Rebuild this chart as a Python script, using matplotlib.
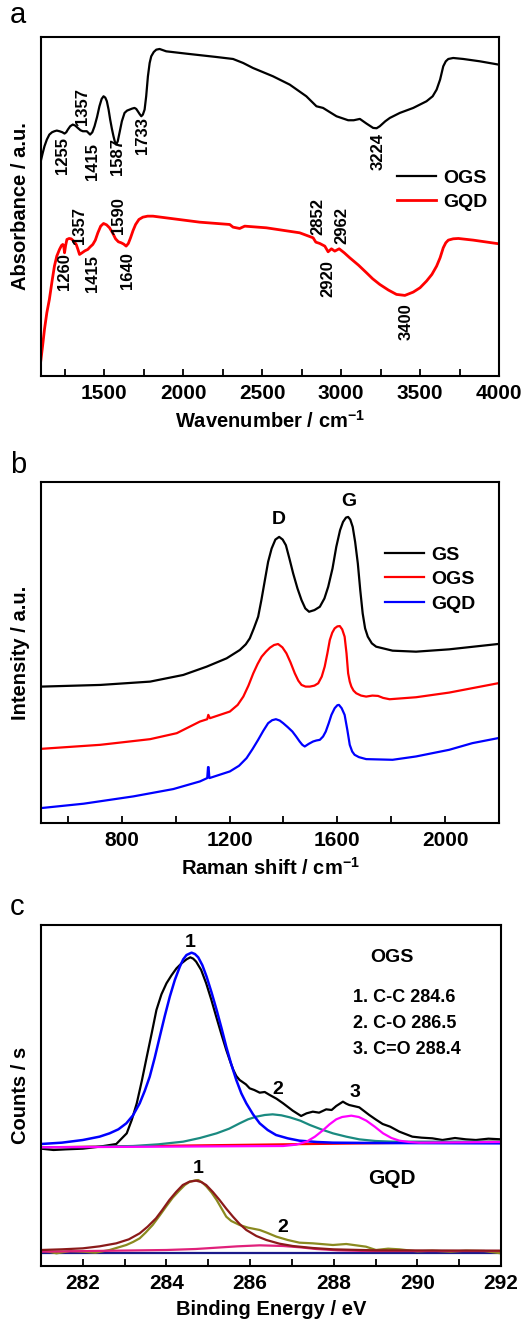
import matplotlib.pyplot as plt
from matplotlib.ticker import MultipleLocator

plt.rcParams['font.family'] = ['Liberation Sans', 'DejaVu Sans']
plt.rcParams['font.weight'] = 'bold'
plt.rcParams['mathtext.fontset'] = 'custom'
plt.rcParams['mathtext.rm'] = 'Liberation Sans'
plt.rcParams['mathtext.bf'] = 'Liberation Sans:bold'

# ---- panel a: FTIR ----
ftir_wn_ogs = [1096, 1110, 1122, 1137, 1153, 1170, 1185, 1200, 1217, 1235, 1249, 1260, 1270,
               1285, 1301, 1317, 1333, 1350, 1365, 1390, 1411, 1425, 1439, 1455, 1470, 1484,
               1496, 1507, 1517, 1528, 1538, 1549, 1559, 1568, 1576, 1586, 1597, 1612, 1629,
               1645, 1661, 1677, 1692, 1703, 1713, 1724, 1735, 1745, 1756, 1766, 1777, 1788,
               1798, 1814, 1830, 1851, 1893, 2020, 2210, 2316, 2380, 2442, 2569, 2675, 2780,
               2844, 2886, 2930, 2971, 3045, 3080, 3119, 3161, 3203, 3225, 3245, 3280, 3309,
               3372, 3457, 3541, 3580, 3605, 3627, 3647, 3663, 3679, 3710, 3774, 3879, 3999]
ftir_ogs = [0.640, 0.668, 0.690, 0.710, 0.725, 0.732, 0.735, 0.737, 0.735, 0.732, 0.728, 0.732,
            0.740, 0.750, 0.755, 0.752, 0.745, 0.738, 0.735, 0.735, 0.725, 0.732, 0.750, 0.778,
            0.810, 0.832, 0.840, 0.836, 0.825, 0.800, 0.770, 0.742, 0.720, 0.703, 0.695, 0.705,
            0.730, 0.765, 0.790, 0.797, 0.800, 0.803, 0.805, 0.802, 0.795, 0.787, 0.780, 0.785,
            0.800, 0.840, 0.900, 0.940, 0.960, 0.973, 0.980, 0.982, 0.975, 0.968, 0.958, 0.952,
            0.940, 0.925, 0.900, 0.875, 0.840, 0.810, 0.805, 0.792, 0.780, 0.768, 0.768, 0.772,
            0.758, 0.745, 0.744, 0.750, 0.765, 0.775, 0.790, 0.805, 0.825, 0.840, 0.860, 0.890,
            0.930, 0.945, 0.952, 0.955, 0.952, 0.945, 0.935]
ftir_wn_gqd = [1096, 1110, 1122, 1137, 1153, 1170, 1185, 1200, 1217, 1230, 1238, 1244, 1249,
               1256, 1264, 1278, 1291, 1307, 1323, 1334, 1344, 1360, 1378, 1396, 1412, 1428,
               1444, 1460, 1478, 1496, 1515, 1534, 1553, 1572, 1590, 1608, 1624, 1639, 1653,
               1667, 1683, 1699, 1720, 1745, 1775, 1809, 2104, 2295, 2316, 2358, 2390, 2527,
               2738, 2823, 2840, 2865, 2897, 2918, 2939, 2960, 2988, 3020, 3055, 3110, 3161,
               3200, 3245, 3300, 3351, 3404, 3457, 3500, 3541, 3575, 3605, 3627, 3647, 3663,
               3679, 3710, 3743, 3837, 3999]
ftir_gqd = [0.035, 0.090, 0.140, 0.190, 0.230, 0.285, 0.330, 0.360, 0.380, 0.392, 0.395, 0.390,
            0.370, 0.392, 0.410, 0.413, 0.412, 0.405, 0.395, 0.380, 0.365, 0.370, 0.376, 0.380,
            0.388, 0.395, 0.408, 0.430, 0.450, 0.458, 0.454, 0.445, 0.430, 0.412, 0.403, 0.400,
            0.396, 0.390, 0.398, 0.415, 0.437, 0.455, 0.470, 0.477, 0.480, 0.480, 0.462, 0.455,
            0.447, 0.443, 0.450, 0.445, 0.430, 0.415, 0.402, 0.398, 0.390, 0.373, 0.382, 0.375,
            0.382, 0.370, 0.355, 0.333, 0.310, 0.292, 0.275, 0.258, 0.245, 0.242, 0.252, 0.265,
            0.285, 0.305, 0.330, 0.355, 0.385, 0.400, 0.408, 0.412, 0.413, 0.408, 0.397]
ftir_labels = ['1255', '1357', '1415', '1587', '1733', '3224',
               '1260', '1357', '1415', '1590', '1640', '2852', '2962', '2920', '3400']
ftir_label_x = [1238, 1365, 1424, 1587, 1741, 3235, 1249, 1344, 1424, 1593, 1650, 2855, 3002, 2918, 3414]
ftir_label_y = [0.662, 0.810, 0.643, 0.660, 0.722, 0.675, 0.315, 0.452, 0.308, 0.482, 0.318,
                0.478, 0.452, 0.292, 0.162]

# ---- panel b: Raman ----
raman_x_gs = [502, 720, 905, 1028, 1115, 1189, 1238, 1260, 1275, 1290, 1306, 1318, 1331, 1343,
              1356, 1370, 1384, 1397, 1409, 1422, 1436, 1452, 1467, 1481, 1495, 1515, 1535, 1552,
              1566, 1582, 1596, 1610, 1621, 1632, 1640, 1648, 1657, 1666, 1676, 1685, 1694, 1703,
              1713, 1728, 1744, 1805, 1892, 2015, 2196]
raman_gs = [0.410, 0.415, 0.425, 0.445, 0.470, 0.495, 0.520, 0.537, 0.555, 0.585, 0.620, 0.670,
            0.730, 0.785, 0.825, 0.852, 0.860, 0.852, 0.835, 0.795, 0.750, 0.705, 0.670, 0.645,
            0.635, 0.640, 0.650, 0.675, 0.710, 0.765, 0.830, 0.880, 0.905, 0.918, 0.920, 0.912,
            0.890, 0.845, 0.780, 0.700, 0.630, 0.585, 0.560, 0.540, 0.530, 0.518, 0.515, 0.522,
            0.538]
raman_x_ogs = [502, 720, 905, 1004, 1090, 1117, 1121, 1127, 1201, 1230, 1251, 1270, 1288, 1304,
               1319, 1335, 1350, 1365, 1380, 1396, 1411, 1426, 1442, 1455, 1467, 1482, 1498,
               1515, 1529, 1542, 1553, 1563, 1572, 1581, 1590, 1600, 1609, 1618, 1627, 1634,
               1640, 1646, 1652, 1660, 1670, 1688, 1707, 1730, 1751, 1770, 1794, 1892, 2015, 2196]
raman_ogs = [0.223, 0.235, 0.252, 0.270, 0.305, 0.312, 0.325, 0.315, 0.335, 0.355, 0.380, 0.413,
             0.450, 0.478, 0.500, 0.515, 0.527, 0.535, 0.538, 0.528, 0.510, 0.483, 0.450, 0.428,
             0.415, 0.410, 0.410, 0.413, 0.420, 0.440, 0.470, 0.510, 0.550, 0.572, 0.585, 0.591,
             0.592, 0.582, 0.560, 0.510, 0.450, 0.425, 0.410, 0.398, 0.390, 0.383, 0.380, 0.383,
             0.382, 0.376, 0.372, 0.378, 0.392, 0.420]
raman_x_gqd = [502, 658, 843, 991, 1090, 1117, 1120, 1122, 1125, 1201, 1235, 1263, 1285, 1306,
               1325, 1343, 1358, 1372, 1386, 1399, 1416, 1433, 1447, 1460, 1470, 1479, 1494,
               1510, 1522, 1535, 1547, 1557, 1568, 1578, 1590, 1600, 1606, 1616, 1627, 1637,
               1646, 1655, 1664, 1680, 1707, 1805, 1892, 2015, 2101, 2196]
raman_gqd = [0.045, 0.058, 0.080, 0.102, 0.125, 0.135, 0.168, 0.168, 0.135, 0.155, 0.172, 0.195,
             0.222, 0.250, 0.277, 0.300, 0.309, 0.312, 0.308, 0.300, 0.288, 0.275, 0.260, 0.245,
             0.235, 0.230, 0.238, 0.245, 0.248, 0.250, 0.260, 0.275, 0.300, 0.325, 0.345, 0.354,
             0.355, 0.345, 0.325, 0.280, 0.235, 0.215, 0.205, 0.198, 0.192, 0.190, 0.200, 0.220,
             0.240, 0.255]

# ---- panel c: XPS C1s ----
xps_x_ogs = [281.0, 281.3, 281.6, 282.0, 282.4, 282.8, 283.05, 283.17, 283.29, 283.41, 283.53,
             283.65, 283.76, 283.88, 284.0, 284.12, 284.24, 284.36, 284.48, 284.57, 284.64,
             284.71, 284.83, 284.95, 285.07, 285.19, 285.31, 285.43, 285.52, 285.6, 285.67,
             285.75, 285.9, 285.99, 286.1, 286.23, 286.35, 286.47, 286.63, 286.79, 287.02,
             287.22, 287.35, 287.5, 287.65, 287.82, 287.95, 288.06, 288.22, 288.3, 288.37,
             288.61, 288.85, 289.0, 289.17, 289.35, 289.57, 289.88, 290.1, 290.36, 290.6, 290.9,
             291.16, 291.4, 291.7, 292.0]
xps_ogs = [0.352, 0.348, 0.350, 0.352, 0.358, 0.366, 0.398, 0.438, 0.488, 0.555, 0.628, 0.700,
           0.768, 0.815, 0.848, 0.872, 0.893, 0.908, 0.920, 0.926, 0.922, 0.913, 0.888, 0.848,
           0.800, 0.748, 0.697, 0.648, 0.615, 0.588, 0.570, 0.558, 0.545, 0.533, 0.528, 0.520,
           0.522, 0.513, 0.502, 0.488, 0.466, 0.450, 0.458, 0.463, 0.460, 0.470, 0.468, 0.480,
           0.493, 0.487, 0.483, 0.476, 0.453, 0.440, 0.426, 0.418, 0.403, 0.388, 0.385, 0.383,
           0.378, 0.384, 0.380, 0.378, 0.382, 0.380]
xps_x_fit1 = [281.0, 281.5, 282.0, 282.4, 282.64, 282.85, 283.04, 283.2, 283.36, 283.48, 283.6,
              283.72, 283.84, 283.96, 284.08, 284.2, 284.32, 284.4, 284.48, 284.6, 284.68,
              284.76, 284.86, 284.96, 285.08, 285.2, 285.32, 285.43, 285.55, 285.67, 285.79,
              285.91, 286.07, 286.23, 286.42, 286.62, 286.9, 287.18, 287.6, 287.98, 289.0, 292.0]
xps_fit1 = [0.366, 0.370, 0.378, 0.388, 0.398, 0.410, 0.428, 0.452, 0.488, 0.525, 0.568, 0.625,
            0.688, 0.750, 0.808, 0.858, 0.898, 0.920, 0.933, 0.940, 0.936, 0.926, 0.902, 0.868,
            0.820, 0.768, 0.712, 0.658, 0.605, 0.558, 0.518, 0.488, 0.455, 0.428, 0.408, 0.393,
            0.383, 0.376, 0.372, 0.370, 0.369, 0.368]
xps_x_fit2 = [281.0, 282.0, 283.2, 283.8, 284.4, 284.8, 285.2, 285.5, 285.75, 285.95, 286.15,
              286.35, 286.54, 286.75, 286.95, 287.2, 287.43, 287.7, 287.98, 288.3, 288.61, 289.0,
              289.41, 292.0]
xps_fit2 = [0.356, 0.357, 0.360, 0.365, 0.373, 0.384, 0.398, 0.412, 0.428, 0.440, 0.448, 0.453,
            0.455, 0.452, 0.446, 0.436, 0.423, 0.410, 0.398, 0.388, 0.380, 0.375, 0.373, 0.373]
xps_x_fit3 = [281.0, 286.79, 287.1, 287.35, 287.55, 287.75, 287.9, 288.06, 288.2, 288.42, 288.6,
              288.78, 288.98, 289.18, 289.38, 289.57, 289.8, 290.05, 292.0]
xps_fit3 = [0.356, 0.360, 0.364, 0.373, 0.388, 0.408, 0.425, 0.440, 0.447, 0.451, 0.447, 0.436,
            0.418, 0.398, 0.384, 0.376, 0.372, 0.370, 0.372]
xps_x_base = [281.0, 292.0]
xps_base_ogs = [0.356, 0.373]

xps_x_gqd = [281.0, 281.37, 281.7, 282.0, 282.3, 282.64, 283.04, 283.2, 283.36, 283.5, 283.67,
             283.83, 283.99, 284.15, 284.32, 284.44, 284.56, 284.66, 284.76, 284.86, 284.96,
             285.08, 285.2, 285.32, 285.43, 285.55, 285.75, 285.95, 286.23, 286.4, 286.63,
             286.9, 287.18, 287.5, 287.98, 288.3, 288.77, 289.01, 289.3, 289.57, 290.0, 290.36,
             290.8, 291.16, 291.6, 292.0]
xps_gqd = [0.048, 0.038, 0.045, 0.043, 0.040, 0.048, 0.063, 0.072, 0.083, 0.100, 0.123, 0.150,
           0.178, 0.205, 0.228, 0.243, 0.253, 0.256, 0.258, 0.250, 0.238, 0.220, 0.198, 0.172,
           0.148, 0.135, 0.123, 0.115, 0.108, 0.100, 0.088, 0.078, 0.070, 0.068, 0.063, 0.066,
           0.058, 0.048, 0.052, 0.050, 0.044, 0.046, 0.043, 0.046, 0.045, 0.038]
xps_x_gfit1 = [281.0, 281.5, 282.0, 282.4, 282.8, 283.1, 283.36, 283.55, 283.75, 283.9, 284.07,
               284.23, 284.39, 284.55, 284.71, 284.83, 284.95, 285.11, 285.27, 285.43, 285.59,
               285.75, 285.91, 286.15, 286.39, 286.7, 287.02, 287.5, 287.98, 289.0, 292.0]
xps_gfit1 = [0.048, 0.050, 0.053, 0.059, 0.068, 0.080, 0.098, 0.118, 0.143, 0.168, 0.198, 0.222,
             0.243, 0.253, 0.256, 0.252, 0.243, 0.222, 0.198, 0.172, 0.148, 0.126, 0.108, 0.090,
             0.078, 0.067, 0.060, 0.054, 0.050, 0.047, 0.046]
xps_x_gfit2 = [281.0, 284.0, 284.7, 285.2, 285.7, 286.23, 286.79, 287.2, 287.58, 288.1, 288.77, 292.0]
xps_gfit2 = [0.043, 0.048, 0.051, 0.055, 0.059, 0.062, 0.060, 0.056, 0.051, 0.047, 0.045, 0.045]
xps_base_gqd = [0.040, 0.040]

xps_x_ogs_notes = [284.57, 286.67, 288.5]
xps_y_ogs_notes = [0.970, 0.530, 0.520]
xps_x_gqd_notes = [284.76, 286.79]
xps_y_gqd_notes = [0.293, 0.116]
xps_assign = ['1. C-C 284.6', '2. C-O 286.5', '3. C=O 288.4']

W, H = 522, 1324
fig = plt.figure(figsize=(W / 100, H / 100), dpi=100)


def style(ax):
    for s in ax.spines.values():
        s.set_linewidth(1.5)
    ax.set_yticks([])
    ax.tick_params(axis='x', which='both', direction='in', top=False, labelsize=15, width=1.3, pad=6)
    ax.tick_params(axis='x', which='major', length=5)
    ax.tick_params(axis='x', which='minor', length=5)
    for lab in ax.get_xticklabels():
        lab.set_fontweight('bold')


def px_axes(l, t, r, b):
    return fig.add_axes([l / W, 1 - b / H, (r - l) / W, (b - t) / H])


# panel a
ax1 = px_axes(41, 37, 499, 376)
ax1.plot(ftir_wn_ogs, ftir_ogs, color='black', lw=1.6, label='OGS')
ax1.plot(ftir_wn_gqd, ftir_gqd, color='red', lw=2.0, label='GQD')
for t, x, y in zip(ftir_labels, ftir_label_x, ftir_label_y):
    ax1.text(x, y, t, rotation=90, ha='center', va='center', fontsize=12, fontweight='bold')
ax1.set_xlim(1100, 4000)
ax1.set_ylim(0, 1.018)
ax1.xaxis.set_major_locator(MultipleLocator(500))
ax1.xaxis.set_minor_locator(MultipleLocator(250))
style(ax1)
ax1.set_xticks([1500, 2000, 2500, 3000, 3500, 4000])
ax1.set_xlabel(r'Wavenumber / cm$^{\mathbf{-1}}$', fontsize=14.5, fontweight='bold', labelpad=5)
ax1.set_ylabel('Absorbance / a.u.', fontsize=14.5, fontweight='bold', labelpad=8)
ax1.legend(frameon=False, loc='upper left', bbox_to_anchor=(0.777, 0.61), borderpad=0,
           borderaxespad=0, handlelength=2.0, handletextpad=0.4, labelspacing=0.35,
           prop={'size': 14, 'weight': 'bold'})
fig.text(10 / W, 1 - 15 / H, 'a', fontsize=21, fontweight='normal', va='center')

# panel b
ax2 = px_axes(41, 482, 499, 823)
ax2.plot(raman_x_gs, raman_gs, color='black', lw=1.6, label='GS')
ax2.plot(raman_x_ogs, raman_ogs, color='red', lw=1.6, label='OGS')
ax2.plot(raman_x_gqd, raman_gqd, color='blue', lw=1.6, label='GQD')
ax2.text(1384, 0.912, 'D', ha='center', va='center', fontsize=14, fontweight='bold')
ax2.text(1641, 0.967, 'G', ha='center', va='center', fontsize=14, fontweight='bold')
ax2.set_xlim(500, 2200)
ax2.set_ylim(0, 1.025)
ax2.xaxis.set_major_locator(MultipleLocator(400))
ax2.xaxis.set_minor_locator(MultipleLocator(200))
style(ax2)
ax2.set_xlabel(r'Raman shift / cm$^{\mathbf{-1}}$', fontsize=14.5, fontweight='bold', labelpad=5)
ax2.set_ylabel('Intensity / a.u.', fontsize=14.5, fontweight='bold', labelpad=8)
ax2.legend(frameon=False, loc='upper left', bbox_to_anchor=(0.751, 0.812), borderpad=0,
           borderaxespad=0, handlelength=2.0, handletextpad=0.4, labelspacing=0.35,
           prop={'size': 14, 'weight': 'bold'})
fig.text(10 / W, 1 - 465 / H, 'b', fontsize=21, fontweight='normal', va='center')

# panel c
ax3 = px_axes(41, 925, 501, 1266)
ax3.plot(xps_x_base, xps_base_ogs, color='red', lw=1.6)
ax3.plot(xps_x_ogs, xps_ogs, color='black', lw=1.6)
ax3.plot(xps_x_fit2, xps_fit2, color='#1a8a80', lw=1.6)
ax3.plot(xps_x_fit1, xps_fit1, color='blue', lw=1.8)
ax3.plot(xps_x_fit3, xps_fit3, color='magenta', lw=1.6)
ax3.plot(xps_x_base, xps_base_gqd, color='#1a1a8a', lw=1.6)
ax3.plot(xps_x_gqd, xps_gqd, color='#8a8a20', lw=1.6)
ax3.plot(xps_x_gfit2, xps_gfit2, color='#e0207a', lw=1.6)
ax3.plot(xps_x_gfit1, xps_gfit1, color='#8b1a1a', lw=1.6)
for i, (x, y) in enumerate(zip(xps_x_ogs_notes, xps_y_ogs_notes)):
    ax3.text(x, y, str(i + 1), ha='center', va='center', fontsize=14, fontweight='bold')
for i, (x, y) in enumerate(zip(xps_x_gqd_notes, xps_y_gqd_notes)):
    ax3.text(x, y, str(i + 1), ha='center', va='center', fontsize=14, fontweight='bold')
ax3.text(289.4, 0.926, 'OGS', ha='center', va='center', fontsize=14, fontweight='bold')
ax3.text(289.4, 0.263, 'GQD', ha='center', va='center', fontsize=15, fontweight='bold')
for j, t in enumerate(xps_assign):
    ax3.text(288.45, 0.806 - 0.079 * j, t, ha='left', va='center', fontsize=13, fontweight='bold')
ax3.set_xlim(281, 292)
ax3.set_ylim(0, 1.023)
ax3.xaxis.set_major_locator(MultipleLocator(2))
ax3.xaxis.set_minor_locator(MultipleLocator(1))
style(ax3)
ax3.set_xlabel('Binding Energy / eV', fontsize=14.5, fontweight='bold', labelpad=5)
ax3.set_ylabel('Counts / s', fontsize=14.5, fontweight='bold', labelpad=8)
fig.text(10 / W, 1 - 907 / H, 'c', fontsize=21, fontweight='normal', va='center')

fig.savefig('out.png', dpi=100)
